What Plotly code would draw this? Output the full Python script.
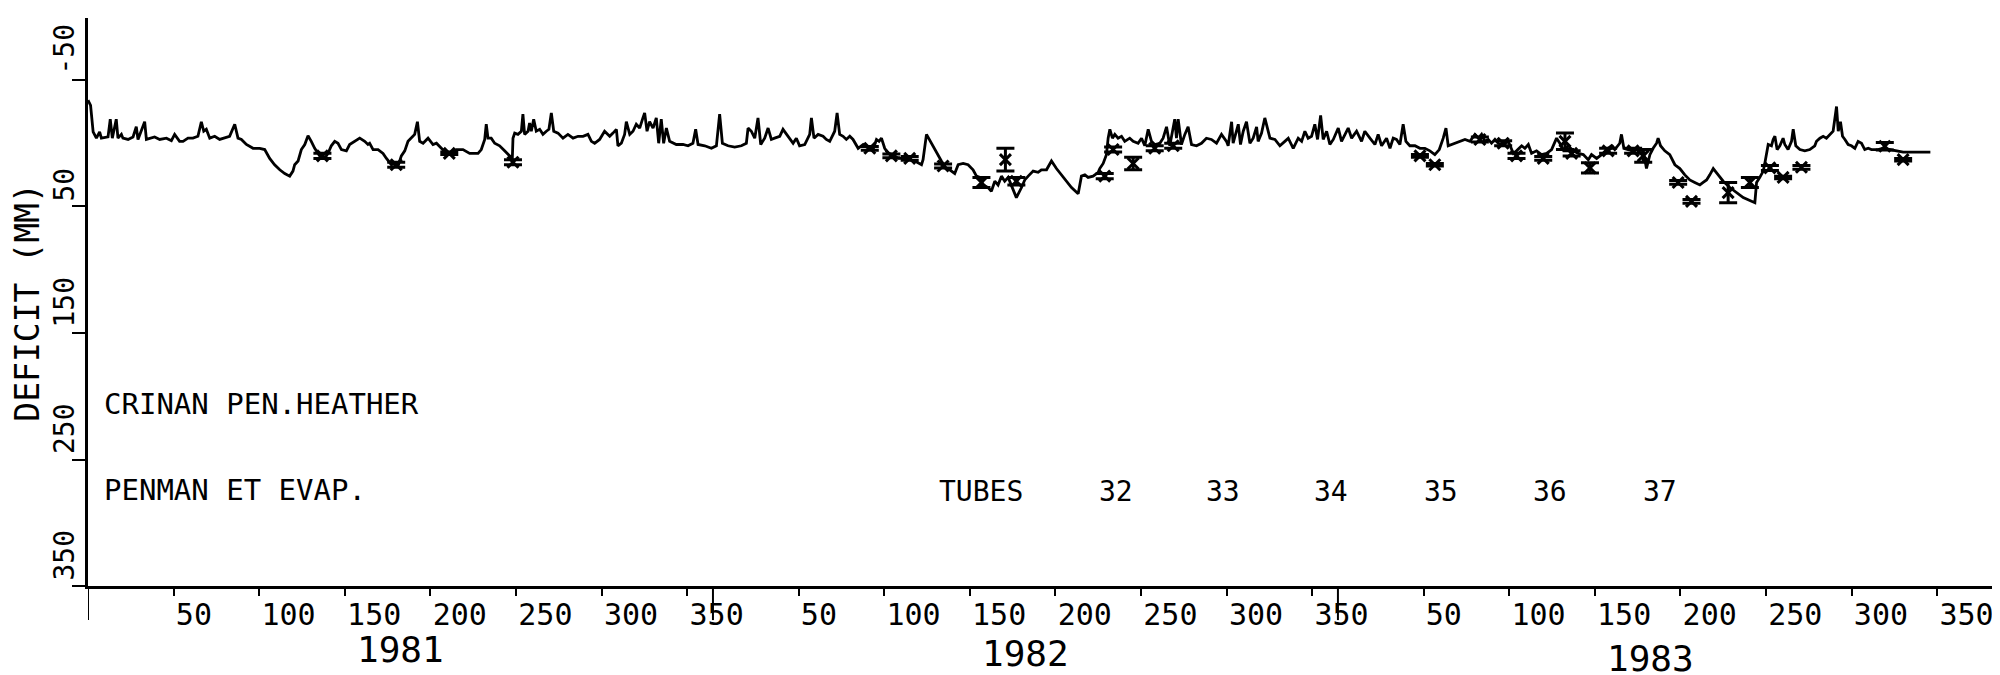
import plotly.graph_objects as go

# ---------------- data ----------------
# day counted from 1 Jan 1981 (365-day years), deficit in mm (positive = deficit, plotted downward)
line_day = [0, 1.5, 3, 4.9, 6.8, 7.8, 11.7, 13.0, 14.2, 16.5, 17.5, 19.5, 20.4, 23.4, 26.3, 28.2, 29.2, 33.1, 34.1,
            37.0, 38.9, 41.9, 45.8, 48.7, 50.6, 53.5, 55.5, 58.4, 61.3, 64.2, 66.2, 67.6, 69.1, 71.1, 74.0, 76.9,
            79.8, 82.7, 85.7, 87.6, 89.6, 92.5, 96.4, 100.3, 103.2, 106.1, 109.0, 112.0, 114.9, 117.8, 119.7, 120.7,
            122.7, 124.6, 126.6, 128.5, 130.4, 132.4, 135.3, 138.2, 140.2, 142.1, 144.1, 146.0, 148.0, 150.9, 152.8,
            155.8, 158.7, 161.6, 163.5, 164.5, 166.5, 169.4, 172.3, 174.3, 177.2, 179.1, 181.1, 183.0, 185.0, 186.9,
            188.9, 190.8, 192.4, 193.7, 195.7, 198.6, 201.5, 203.5, 206.4, 209.3, 212.2, 215.1, 219.0, 222.9, 227.8,
            229.7, 231.7, 232.6, 233.6, 235.5, 237.5, 240.4, 243.3, 246.3, 247.8, 248.2, 249.2, 251.1, 253.1, 254.0,
            255.0, 257.0, 257.9, 258.9, 260.3, 261.8, 263.8, 265.7, 267.7, 269.2, 270.6, 272.0, 274.5, 277.4, 280.3,
            283.3, 286.2, 289.1, 292.0, 294.0, 295.9, 298.8, 301.7, 304.7, 306.6, 308.6, 309.5, 311.5, 313.4, 314.4,
            316.4, 318.3, 320.2, 322.2, 324.1, 325.1, 326.5, 328.0, 330.0, 331.9, 333.3, 334.8, 336.2, 337.8, 339.7,
            343.6, 347.5, 350.4, 353.3, 354.9, 356.3, 360.2, 364.1, 367.0, 368.9, 370.5, 373.8, 377.7, 381.6, 384.5,
            385.5, 387.4, 389.4, 391.3, 392.9, 395.2, 397.2, 399.1, 401.0, 404.0, 405.9, 407.9, 409.8, 411.8, 413.7,
            415.6, 418.6, 421.5, 422.5, 424.0, 426.4, 429.3, 431.2, 433.2, 436.1, 437.5, 439.0, 441.0, 442.9, 444.9,
            446.8, 449.8, 452.7, 455.6, 458.5, 460.5, 462.0, 463.4, 465.3, 467.3, 470.2, 473.1, 477.0, 479.9, 482.9,
            486.8, 487.7, 489.7, 492.6, 495.5, 498.4, 501.4, 503.3, 506.2, 508.2, 511.1, 514.0, 516.9, 518.9, 520.8,
            522.8, 525.7, 527.6, 529.6, 531.5, 533.5, 535.4, 537.4, 539.3, 542.2, 545.2, 547.1, 549.1, 552.0, 554.9,
            556.8, 559.8, 562.7, 565.6, 568.5, 571.4, 574.4, 578.3, 580.2, 582.2, 584.1, 587.0, 590.0, 590.9, 592.9,
            594.8, 595.8, 596.8, 598.3, 599.7, 601.6, 603.6, 605.5, 608.4, 610.4, 613.3, 615.3, 617.2, 619.2, 621.1,
            623.0, 626.0, 627.9, 629.9, 631.8, 634.7, 635.7, 636.7, 638.6, 640.6, 642.5, 644.5, 647.4, 650.3, 653.2,
            656.1, 659.1, 662.0, 664.9,
            665.9, 667.9, 668.8, 671.8, 673.1, 674.7, 676.6, 678.6, 680.5, 682.5, 683.4, 685.4, 687.3, 688.7, 690.3,
            693.2, 696.1, 699.0, 701.0, 703.9, 706.8, 708.8, 710.7, 712.6, 714.6, 716.5, 718.1, 719.9, 721.4, 723.4,
            725.3, 727.3, 730.2, 732.1, 734.1, 736.0, 738.0, 740.9, 743.8, 745.7, 748.7, 751.6, 753.5, 755.5, 758.4,
            760.4, 762.3, 764.2, 766.2, 768.1, 769.7, 772.0, 775.0, 777.9, 780.8, 783.7, 786.6, 789.2, 791.5, 793.1,
            794.4, 796.4, 799.3, 802.2, 804.2, 807.1, 810.0, 812.0, 813.9, 815.8, 817.8, 819.7, 821.7, 823.6, 826.5,
            829.5, 832.4, 834.3, 837.3, 839.2, 841.2, 843.1, 846.0, 848.9, 851.9, 854.8, 857.7, 859.6, 861.6, 864.5,
            867.4, 870.4, 873.3, 876.2, 878.1, 881.1, 884.0, 886.9, 889.8,
            891.7, 894.6, 895.6, 897.0, 899.5, 902.4, 905.3, 908.3, 910.2, 911.2, 912.2, 914.1, 916.1, 917.0, 918.4,
            920.9, 923.8, 926.8, 929.7, 932.6, 935.5, 938.4, 941.4, 943.3, 945.3, 947.2, 949.2, 952.1, 955.0, 958.9,
            962.8, 966.7, 973.5, 974.5, 976.4, 978.4, 979.3, 980.3, 981.3, 983.2, 984.2, 985.2, 986.5, 988.1, 990.0,
            991.0, 992.9, 994.9, 995.9, 997.4, 999.8, 1002.7, 1005.6, 1008.5, 1009.5, 1011.5, 1013.4, 1015.3, 1017.3,
            1019.2, 1021.2, 1022.2, 1023.5, 1024.7, 1026.1, 1028.0, 1029.9, 1031.9, 1033.8, 1035.8, 1037.7, 1039.7,
            1041.6, 1045.5, 1048.4, 1052.3, 1056.2, 1060.1, 1076.0]

line_mm = [-34, -30, -9, -4, -9, -4, -5, -19, -4, -19, -4, -7, -4, -3, -5, -13, -3, -17, -3,
           -4, -5, -3, -4, -2, -7, -1.5, -1.5, -4, -4, -5.5, -17, -9.5, -11, -4, -5.5, -3,
           -4, -5.5, -15, -4, -3, 1, 4, 4, 5, 12, 17, 21, 24, 26, 22, 17,
           14, 5, 1, -6, -1.5, 4, 10, 12, 8, 2, -1.5, 0, 5, 6, 1,
           -1.5, -4, -1.5, 1, 0, 5, 5, 8, 12, 17, 16, 18, 10, 6, -1.5,
           -4, -7, -17, -1.5, 0, -4, 1, 0, 4, 8, 8, 5, 5, 8, 8,
           5, -3, -15, -4, -4, 0, 2, 6, 10, 13, -4, -8, -7, -9.5, -23,
           -7, -9.5, -16, -9.5, -19, -9.5, -11, -7, -9.5, -11, -24, -9.5, -8, -4, -7,
           -4, -5.5, -5.5, -7, -1.5, 0, -3, -9.5, -5.5, -8, -11, 2, 0, -7, -17,
           -7, -9.5, -15, -12, -20, -24, -9.5, -17, -12, -20, 0, -19, 0, -12, -1.5,
           1, 1, 2, 0, -11, 1, 2, 4, 2, -23, 0, 2, 3, 2, 0,
           -12, -9.5, -4, -20, 1, -4, -12, -3, -4, -5.5, -11, -7, -3, 0, -4,
           2, 1, -7, -20, -4, -7, -5.5, -3, -1.5, -9.5, -24, -7, -5.5, -3, -5.5,
           -3, 4, 1, 4, 5, -3, -1.5, -4, 4, 8, 9, 12, 12, 13, 14,
           17, 13, -7, 0, 8, 14, 20, 21, 24, 17, 16, 17, 21, 26, 27,
           33, 35, 38, 30, 33, 26, 30, 27, 34, 43, 35, 29, 26, 22, 23,
           21, 21, 14, 20, 25, 30, 35, 40, 26, 25, 27, 26, 23, 20, 16,
           9, -4, -11, -4, -7, -4, -5.5, -1.5, -4, -1.5, 0, -4, 2, -11, -1.5,
           1, 0, -4, -13, 2, -19, -4, -19, 1, -7, -13, 1, 2, 0, -4,
           -3, 0, -7, -1.5,
           2, -17, 0, -15, 1, -9.5, -17, 0, -4, -13, -1.5, -8, -20, -13, -4,
           -3, 2, -1.5, -4, 4, -4, -1.5, -9.5, -4, -5.5, -15, -3, -22, -3, -9.5,
           1, -3, -12, -1.5, -7, -12, -4, -9.5, -1.5, -9.5, -4, 1, -7, 2, -4,
           4, -4, -3, 1, -15, -1.5, 2, 2, 4, 4, 6, 9, 5, -4, -12,
           2, 1, 0, -1.5, -3, -1.5, -7, -4, -7, -1.5, -3, 0, -3, 0, 1,
           -1.5, 8, 6, 2, 4, 1, 8, 6, 9, 8, 5, -4, 0, 5, 2,
           6, 8, 9, 13, 9, 12, 9, 5, 2,
           5, 0, -7, 4, 5, 6, 5, 6, 20, 15, 9, 4, 0, -4, 2,
           6, 9, 17, 20, 25, 29, 31, 33, 31, 29, 25, 20, 25, 30, 35,
           39, 43, 47, 31, 27, 22, 16, 8, 1, 2, -3, -5.5, 5, 2, -4,
           1, 5, -1.5, -11, 2, 5, 6, 5, 2, -1.5, -4, -5.5, -4, -7,
           -9.5, -29, -9.5, -17, -5.5, -3, 1, 2, 4, -1.5, 0, 5, 4,
           5, 5, 4, 5, 6, 7, 7]

# neutron-probe tube readings (mean and half-range)
tube_day = [136.9, 180.0, 211.0, 248.2, 456.6, 469.2, 479.9, 499.4, 521.8, 535.8, 542.2, 593.8, 598.7, 610.4,
            623.0, 633.8, 777.9, 786.6, 812.9, 826.5, 834.3, 849.9, 862.6, 866.5, 877.2, 887.8, 902.4, 908.3,
            928.7, 936.5, 957.9, 970.6, 982.3, 990.0, 1000.7, 1049.4, 1060.1]
tube_mm = [10, 17, 8, 15, 4, 10, 12, 18, 31, 13, 30, 26, 5, 16,
           4, 2, 10, 17, -3, 0, 10, 12, -1.5, 8, 19.5, 6, 6, 10,
           31, 46, 39, 31, 19.5, 27, 19, 2.4, 13]
tube_err = [2, 2, 1, 2, 1.5, 1.5, 1.5, 1.5, 4, 9, 3, 2, 2, 5,
            2, 2, 1, 1, 2, 2, 2, 1.5, 6.5, 2, 4, 2, 2, 5,
            1.5, 1.5, 8, 4, 2, 1, 1.5, 3, 1]

years = ["1981", "1982", "1983"]
day_ticks = [50, 100, 150, 200, 250, 300, 350]
y_ticks = [-50, 50, 150, 250, 350]
tube_names = ["32", "33", "34", "35", "36", "37"]
title_lines = ["CRINAN PEN.HEATHER", "PENMAN ET EVAP."]
y_title = "DEFICIT (MM)"

YEAR = 365
# ---------------------------------------------------------------

FONT = "DejaVu Sans Mono"
tickvals = [i * YEAR + d for i in range(len(years)) for d in day_ticks]
ticktext = [str(d) for i in range(len(years)) for d in day_ticks]

fig = go.Figure()
fig.add_trace(go.Scatter(x=line_day, y=line_mm, mode="lines",
                         line=dict(color="black", width=2.8), hoverinfo="skip"))
fig.add_trace(go.Scatter(x=tube_day, y=tube_mm, mode="markers",
                         marker=dict(symbol="x-thin", size=11, color="black",
                                     line=dict(color="black", width=3)),
                         error_y=dict(type="data", array=tube_err, visible=True,
                                      color="black", thickness=3, width=9)))

ann = []
# rotated y tick labels ending at the tick
for v in y_ticks:
    ann.append(dict(x=0, xref="paper", xshift=-24, y=v, yref="y", yshift=3,
                    text=str(v), textangle=-90, showarrow=False,
                    xanchor="center", yanchor="bottom",
                    font=dict(family=FONT, size=28, color="black")))
ann.append(dict(x=0, xref="paper", xshift=-60, y=126, yref="y",
                text=y_title, textangle=-90, showarrow=False,
                xanchor="center", yanchor="middle",
                font=dict(family=FONT, size=33, color="black")))
# year labels below the axis
year_y = [-0.112, -0.119, -0.127]
for i, yr in enumerate(years):
    ann.append(dict(x=i * YEAR + YEAR / 2, xref="x", y=year_y[i], yref="paper",
                    text=yr, showarrow=False, xanchor="center", yanchor="middle",
                    font=dict(family=FONT, size=36, color="black")))
# text block
ann.append(dict(x=8, y=206, xref="x", yref="y", text=title_lines[0], showarrow=False,
                xanchor="left", yanchor="middle", font=dict(family=FONT, size=29, color="black")))
ann.append(dict(x=8, y=274, xref="x", yref="y", text=title_lines[1], showarrow=False,
                xanchor="left", yanchor="middle", font=dict(family=FONT, size=29, color="black")))
ann.append(dict(x=496, y=275, xref="x", yref="y", text="TUBES", showarrow=False,
                xanchor="left", yanchor="middle", font=dict(family=FONT, size=28, color="black")))
tube_x = [589, 652, 715, 779, 843, 907]
for name, tx in zip(tube_names, tube_x):
    ann.append(dict(x=tx, y=275, xref="x", yref="y", text=name, showarrow=False,
                    xanchor="left", yanchor="middle", font=dict(family=FONT, size=28, color="black")))

# long year-boundary ticks
shapes = []
for i in range(len(years)):
    shapes.append(dict(type="line", xref="x", yref="paper", x0=i * YEAR, x1=i * YEAR,
                       y0=0, y1=-0.06, line=dict(color="black", width=2)))

fig.update_layout(
    width=2000, height=675,
    margin=dict(l=80, r=16, t=10, b=97, autoexpand=False),
    paper_bgcolor="white", plot_bgcolor="white",
    showlegend=False,
    annotations=ann, shapes=shapes,
    font=dict(family=FONT, color="black"),
    xaxis=dict(range=[0, 1112], showgrid=False, zeroline=False, automargin=False,
               showline=True, linecolor="black", linewidth=2.5,
               ticks="outside", ticklen=7, tickwidth=2, tickcolor="black",
               tickvals=tickvals, ticktext=ticktext,
               ticklabelposition="outside right", ticklabelstandoff=0,
               tickfont=dict(family=FONT, size=30, color="black")),
    yaxis=dict(range=[350, -99], showgrid=False, zeroline=False, automargin=False,
               showline=True, linecolor="black", linewidth=2.5,
               ticks="outside", ticklen=13, tickwidth=2, tickcolor="black",
               tickvals=y_ticks, showticklabels=False),
)

fig.write_html("out.html")
